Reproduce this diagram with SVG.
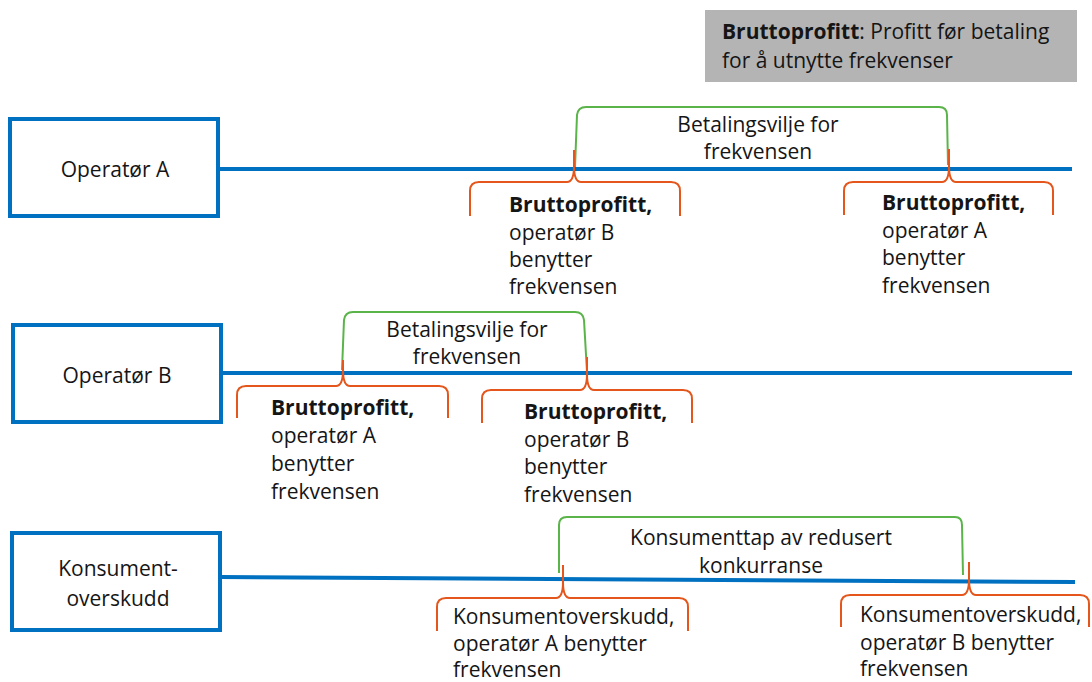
<svg xmlns="http://www.w3.org/2000/svg" width="1092" height="682" viewBox="0 0 1092 682">
  <defs>
    <style>
      .box { fill: #ffffff; stroke: #0070C0; stroke-width: 4; }
      .axis { fill: none; stroke: #0070C0; stroke-width: 4; }
      .wtp { fill: none; stroke: #5AB44A; stroke-width: 2; stroke-linejoin: round; }
      .part { fill: none; stroke: #E4561B; stroke-width: 2; stroke-linejoin: round; }
      text { font-family: "Open Sans", "Liberation Sans", sans-serif; font-size: 21px; fill: #151515; }
      .b { font-weight: 700; }
      .c { text-anchor: middle; }
    </style>
  </defs>

  <rect width="1092" height="682" fill="#ffffff"/>

  <!-- legend -->
  <g id="legend">
    <rect x="705" y="10" width="372" height="72" fill="#B4B4B4"/>
    <text x="722" y="39"><tspan class="b">Bruttoprofitt</tspan>: Profitt før betaling</text>
    <text x="722" y="68">for å utnytte frekvenser</text>
  </g>

  <!-- rows: box + timeline -->
  <g id="connectors">
    <line class="axis" x1="220" y1="169" x2="1072" y2="169"/>
    <line class="axis" x1="222" y1="373" x2="1072" y2="373"/>
    <line class="axis" x1="220" y1="577" x2="1075" y2="582"/>
  </g>

  <g id="operator-a">
    <rect class="box" x="10" y="119" width="208" height="97"/>
    <text class="c" x="115" y="177">Operatør A</text>
  </g>

  <g id="operator-b">
    <rect class="box" x="13" y="325" width="208" height="97"/>
    <text class="c" x="117" y="383">Operatør B</text>
  </g>

  <g id="konsumentoverskudd">
    <rect class="box" x="12" y="533" width="208" height="97"/>
    <text class="c" x="118" y="576">Konsument-</text>
    <text class="c" x="118" y="606">overskudd</text>
  </g>

  <!-- willingness-to-pay brackets -->
  <g id="wtp-a">
    <path class="wtp" d="M575 167 L577 115 Q578 107 586 107 L939 107 Q947 107 947 115 L948 165"/>
    <text class="c" x="758" y="132">Betalingsvilje for</text>
    <text class="c" x="758" y="159">frekvensen</text>
  </g>

  <g id="wtp-b">
    <path class="wtp" d="M342 370 L344 320 Q345 312 353 312 L575 312 Q583 312 584 320 L587 372"/>
    <text class="c" x="467" y="337">Betalingsvilje for</text>
    <text class="c" x="467" y="364">frekvensen</text>
  </g>

  <g id="wtp-c">
    <path class="wtp" d="M559 573 L559 525 Q559 517 567 517 L955 517 Q962 517 962 525 L963 575"/>
    <text class="c" x="761" y="545">Konsumenttap av redusert</text>
    <text class="c" x="761" y="573">konkurranse</text>
  </g>

  <!-- profit / surplus braces -->
  <g id="profit-a1">
    <path class="part" d="M470 216 V191 Q470 182 479 182 H567 Q574 182 574 166 V150 M574 166 Q574 182 581 182 H671 Q680 182 680 191 V216"/>
    <text class="b" x="509" y="212">Bruttoprofitt,</text>
    <text x="509" y="240">operatør B</text>
    <text x="509" y="267">benytter</text>
    <text x="509" y="294">frekvensen</text>
  </g>

  <g id="profit-a2">
    <path class="part" d="M844 215 V191 Q844 182 853 182 H942 Q949 182 949 166 V149 M949 166 Q949 182 956 182 H1044 Q1053 182 1053 191 V215"/>
    <text class="b" x="882" y="210">Bruttoprofitt,</text>
    <text x="882" y="238">operatør A</text>
    <text x="882" y="265">benytter</text>
    <text x="882" y="293">frekvensen</text>
  </g>

  <g id="profit-b1">
    <path class="part" d="M237 418 V395 Q237 386 246 386 H336 Q343 386 343 370 V360 M343 370 Q343 386 350 386 H439 Q448 386 448 395 V418"/>
    <text class="b" x="271" y="415">Bruttoprofitt,</text>
    <text x="271" y="443">operatør A</text>
    <text x="271" y="471">benytter</text>
    <text x="271" y="499">frekvensen</text>
  </g>

  <g id="profit-b2">
    <path class="part" d="M482 423 V399 Q482 390 491 390 H580 Q587 390 587 374 V357 M587 374 Q587 390 594 390 H683 Q692 390 692 399 V423"/>
    <text class="b" x="524" y="419">Bruttoprofitt,</text>
    <text x="524" y="447">operatør B</text>
    <text x="524" y="474">benytter</text>
    <text x="524" y="502">frekvensen</text>
  </g>

  <g id="surplus-a">
    <path class="part" d="M437 631 V607 Q437 598 446 598 H556 Q563 598 563 582 V565 M563 582 Q563 598 570 598 H679 Q688 598 688 607 V631"/>
    <text x="453" y="624">Konsumentoverskudd,</text>
    <text x="453" y="651">operatør A benytter</text>
    <text x="453" y="677">frekvensen</text>
  </g>

  <g id="surplus-b">
    <path class="part" d="M841 627 V604 Q841 595 850 595 H962 Q969 595 969 579 V562 M969 579 Q969 595 976 595 H1080 Q1089 595 1089 604 V627"/>
    <text x="860" y="622">Konsumentoverskudd,</text>
    <text x="860" y="650">operatør B benytter</text>
    <text x="860" y="676">frekvensen</text>
  </g>
</svg>
